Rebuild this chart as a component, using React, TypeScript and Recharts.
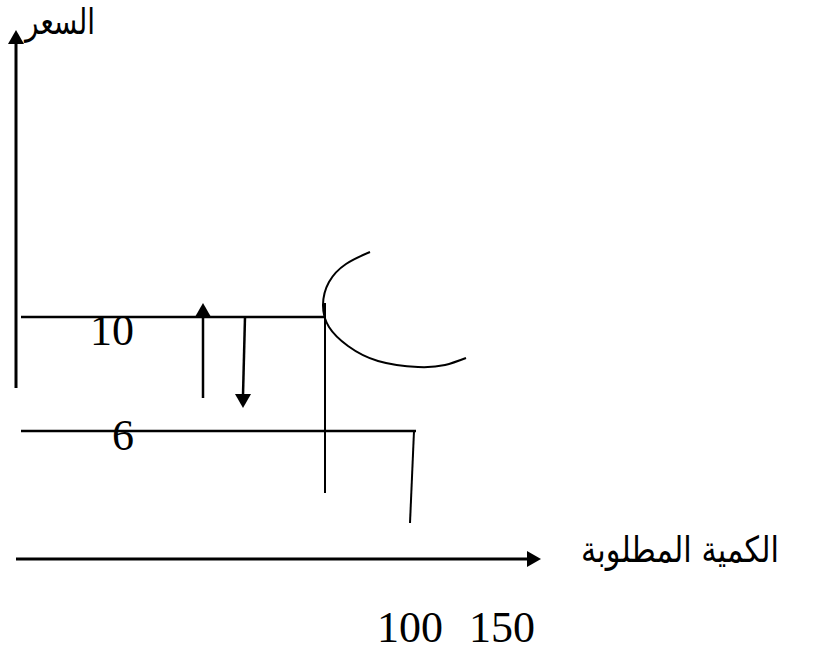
import { ComposedChart, Line, Scatter, XAxis, YAxis } from 'recharts'

const W = 835
const H = 658

// drawing units: x to the right, y upwards (0..W, 0..H)
const priceAxis = [{ x: 16, y: 270 }, { x: 16, y: 616 }]
const qtyAxis = [{ x: 16, y: 99 }, { x: 528, y: 99 }]
const line10 = [{ x: 21, y: 341 }, { x: 325, y: 341 }]
const line6 = [{ x: 21, y: 227 }, { x: 416, y: 227 }]
const drop100 = [{ x: 325, y: 355 }, { x: 325, y: 165 }]
const drop150 = [{ x: 414, y: 227 }, { x: 410, y: 135 }]
const riseArrow = [{ x: 203, y: 260 }, { x: 203, y: 342 }]
const fallArrow = [{ x: 245, y: 341 }, { x: 243, y: 263 }]
const demandCurve = [
  { x: 370, y: 406 },
  { x: 346, y: 394 },
  { x: 329, y: 376 },
  { x: 323, y: 353 },
  { x: 329, y: 331 },
  { x: 348, y: 312 },
  { x: 378, y: 297 },
  { x: 418, y: 291 },
  { x: 445, y: 293 },
  { x: 466, y: 300 },
]
const arrowHeads = [
  { x: 16, y: 628, dir: 'up' },
  { x: 541, y: 99, dir: 'right' },
  { x: 203, y: 355, dir: 'up' },
  { x: 243, y: 250, dir: 'down' },
]
const priceTicks = [
  { x: 112, y: 313, label: '10' },
  { x: 123, y: 208, label: '6' },
]
const qtyTicks = [
  { x: 410, y: 16, label: '100' },
  { x: 502, y: 16, label: '150' },
]
const axisTitles = [
  { x: 60, y: 624, label: 'السعر', len: 70 },
  { x: 680, y: 96, label: 'الكمية المطلوبة', len: 198 },
]

function Head(props: any) {
  const { cx, cy, payload } = props
  const s = 8
  const l = 14
  let pts = ''
  if (payload.dir === 'up') pts = `${cx},${cy} ${cx - s},${cy + l} ${cx + s},${cy + l}`
  if (payload.dir === 'down') pts = `${cx},${cy} ${cx - s},${cy - l} ${cx + s},${cy - l}`
  if (payload.dir === 'right') pts = `${cx},${cy} ${cx - l},${cy - s} ${cx - l},${cy + s}`
  return <polygon points={pts} fill="#000" />
}

function Num(props: any) {
  const { cx, cy, payload } = props
  return (
    <text x={cx} y={cy} textAnchor="middle" fontFamily="'Liberation Serif', serif" fontSize={44} fill="#000">
      {payload.label}
    </text>
  )
}

function Title(props: any) {
  const { cx, cy, payload } = props
  return (
    <text
      x={cx - payload.len / 2}
      y={cy}
      textLength={payload.len}
      lengthAdjust="spacingAndGlyphs"
      fontFamily="'DejaVu Sans', sans-serif"
      fontSize={36}
      fill="#000"
    >
      {payload.label}
    </text>
  )
}

function seg(data: any[], w: number, key: string, type: any = 'linear') {
  return (
    <Line
      key={key}
      data={data}
      dataKey="y"
      type={type}
      stroke="#000"
      strokeWidth={w}
      dot={false}
      activeDot={false}
      isAnimationActive={false}
    />
  )
}

export default function App() {
  return (
    <div style={{ position: 'absolute', left: 0, top: 0, background: '#fff' }}>
      <ComposedChart width={W} height={H} margin={{ top: 0, right: 0, bottom: 0, left: 0 }}>
        <XAxis type="number" dataKey="x" domain={[0, W]} hide allowDataOverflow />
        <YAxis type="number" dataKey="y" domain={[0, H]} hide allowDataOverflow />
        {seg(priceAxis, 3, 'pa')}
        {seg(qtyAxis, 3, 'qa')}
        {seg(line10, 2.5, 'l10')}
        {seg(line6, 2.5, 'l6')}
        {seg(drop100, 2, 'd100')}
        {seg(drop150, 2, 'd150')}
        {seg(riseArrow, 2.5, 'ra')}
        {seg(fallArrow, 2.5, 'fa')}
        {seg(demandCurve, 2, 'dc', 'natural')}
        <Scatter data={arrowHeads} dataKey="y" shape={Head} isAnimationActive={false} />
        <Scatter data={priceTicks} dataKey="y" shape={Num} isAnimationActive={false} />
        <Scatter data={qtyTicks} dataKey="y" shape={Num} isAnimationActive={false} />
        <Scatter data={axisTitles} dataKey="y" shape={Title} isAnimationActive={false} />
      </ComposedChart>
    </div>
  )
}
